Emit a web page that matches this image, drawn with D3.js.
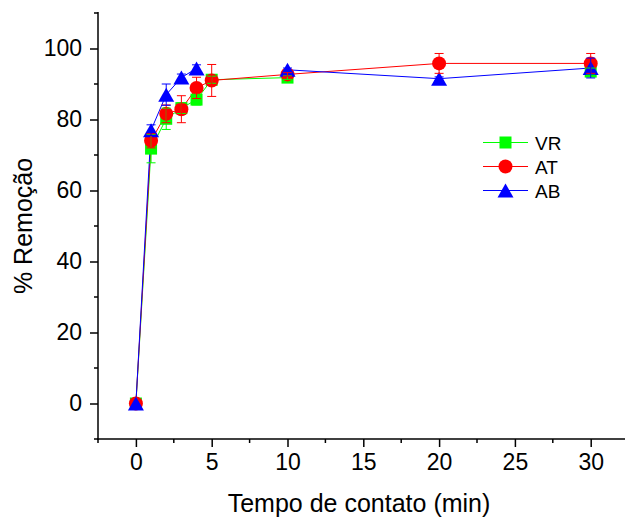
<!DOCTYPE html>
<html>
<head>
<meta charset="utf-8">
<script src="https://cdn.jsdelivr.net/npm/d3@7"></script>
<style>
  body { margin: 0; background: #fff; }
  text { font-family: "Liberation Sans", Arial, sans-serif; }
</style>
</head>
<body>
<div id="chart"></div>
<script>
var tempo = [0, 1, 2, 3, 4, 5, 10, 20, 30];
var VR    = [0, 71.8, 80.2, 83.2, 85.6, 91.2, 91.8, null, 93.5];
var VRerr = [0, 4, 3, 1.5, 1.5, 1, 0.5, null, 1];
var AT    = [0, 74, 81.6, 82.9, 88.9, 91, 92.7, 95.8, 95.8];
var ATerr = [0, 2, 2.5, 3.8, 3, 4.5, 0.5, 2.8, 2.8];
var AB    = [0, 77, 87, 91.8, 94.4, null, 94, 91.5, 94.5];
var ABerr = [0, 1.5, 3, 1, 1, null, 0.5, 0.5, 2.8];
var xMajor = [0, 5, 10, 15, 20, 25, 30];
var xMinor = [-2.5, 2.5, 7.5, 12.5, 17.5, 22.5, 27.5, 32.5];
var yMajor = [0, 20, 40, 60, 80, 100];
var yMinor = [-10, 10, 30, 50, 70, 90, 110];

var width = 625, height = 518;

var svg = d3.select("#chart").append("svg")
    .attr("width", width)
    .attr("height", height);

var x = d3.scaleLinear().domain([-2.5, 32.5]).range([98, 98 + 35 * 15.16]);
var y = d3.scaleLinear().domain([-10, 110]).range([439, 13]);

// axes
var gx = svg.append("g").attr("transform", "translate(0,439)");
gx.call(d3.axisBottom(x).tickValues(xMajor).tickSize(8).tickPadding(7).tickFormat(d3.format("d")));
gx.call(function(g) {
  g.selectAll(".minor").data(xMinor).enter().append("line")
    .attr("class", "minor")
    .attr("x1", function(d) { return x(d); }).attr("x2", function(d) { return x(d); })
    .attr("y1", 0).attr("y2", 4);
});
var gy = svg.append("g").attr("transform", "translate(98,0)");
gy.call(d3.axisLeft(y).tickValues(yMajor).tickSize(8).tickPadding(8).tickFormat(d3.format("d")));
gy.call(function(g) {
  g.selectAll(".minor").data(yMinor).enter().append("line")
    .attr("class", "minor")
    .attr("y1", function(d) { return y(d); }).attr("y2", function(d) { return y(d); })
    .attr("x1", 0).attr("x2", -4);
});
svg.selectAll(".domain").remove();
gx.append("line").attr("x1", 97).attr("x2", width).attr("y1", 0).attr("y2", 0);
gy.append("line").attr("x1", 0).attr("x2", 0).attr("y1", 12).attr("y2", 440);
svg.selectAll("g line").attr("stroke", "#000").attr("stroke-width", 1.5);
svg.selectAll(".tick text").attr("font-size", 23).attr("fill", "#000")
  .style("font-family", "'Liberation Sans', Arial, sans-serif");

// axis titles
svg.append("text")
    .attr("x", 359).attr("y", 512)
    .attr("text-anchor", "middle")
    .attr("font-size", 25)
    .text("Tempo de contato (min)");
svg.append("text")
    .attr("transform", "translate(32,226) rotate(-90)")
    .attr("text-anchor", "middle")
    .attr("font-size", 25)
    .text("% Remoção");

// marker shapes
function marker(sel, shape, color) {
  if (shape === "square") {
    sel.append("rect").attr("x", -6).attr("y", -6).attr("width", 12).attr("height", 12).attr("fill", color);
  } else if (shape === "circle") {
    sel.append("circle").attr("r", 7).attr("fill", color);
  } else {
    sel.append("path").attr("d", "M0,-7L8,7L-8,7Z").attr("fill", color);
  }
}

var series = [
  { name: "VR", v: VR, e: VRerr, color: "#00ff00", shape: "square" },
  { name: "AT", v: AT, e: ATerr, color: "#ff0000", shape: "circle" },
  { name: "AB", v: AB, e: ABerr, color: "#0000ff", shape: "triangle" }
];

var line = d3.line()
    .defined(function(d) { return d[1] != null; })
    .x(function(d) { return x(d[0]); })
    .y(function(d) { return y(d[1]); });

series.forEach(function(s) {
  s.pts = tempo.map(function(t, i) { return [t, s.v[i], s.e[i]]; });
});

var plot = svg.append("g");

series.forEach(function(s) {
  plot.append("path")
      .datum(s.pts)
      .attr("fill", "none")
      .attr("stroke", s.color)
      .attr("stroke-width", 1)
      .attr("d", line);
});

series.forEach(function(s) {
  plot.selectAll(null)
    .data(s.pts.filter(function(d) { return d[1] != null; }))
    .enter().append("g")
      .attr("transform", function(d) { return "translate(" + x(d[0]) + "," + y(d[1]) + ")"; })
      .each(function() { marker(d3.select(this), s.shape, s.color); });
});

// error bars on top
series.forEach(function(s) {
  var eb = plot.selectAll(null)
    .data(s.pts.filter(function(d) { return d[1] != null && d[2] > 0; }))
    .enter().append("g")
      .attr("stroke", s.color)
      .attr("stroke-width", 1);
  eb.append("line")
    .attr("x1", function(d) { return x(d[0]); }).attr("x2", function(d) { return x(d[0]); })
    .attr("y1", function(d) { return y(d[1] - d[2]); }).attr("y2", function(d) { return y(d[1] + d[2]); });
  [-1, 1].forEach(function(sg) {
    eb.append("line")
      .attr("x1", function(d) { return x(d[0]) - 4.5; }).attr("x2", function(d) { return x(d[0]) + 4.5; })
      .attr("y1", function(d) { return y(d[1] + sg * d[2]); }).attr("y2", function(d) { return y(d[1] + sg * d[2]); });
  });
});

// legend
var legend = svg.append("g").attr("transform", "translate(483,142.5)");
series.forEach(function(s, i) {
  var row = legend.append("g").attr("transform", "translate(0," + (i * 24) + ")");
  row.append("line").attr("x1", 0).attr("x2", 45).attr("y1", 0).attr("y2", 0)
    .attr("stroke", s.color).attr("stroke-width", 1);
  var m = row.append("g").attr("transform", "translate(22.5,0)");
  marker(m, s.shape, s.color);
  row.append("text").attr("x", 52).attr("y", 7).attr("font-size", 19).text(s.name);
});
</script>
</body>
</html>
